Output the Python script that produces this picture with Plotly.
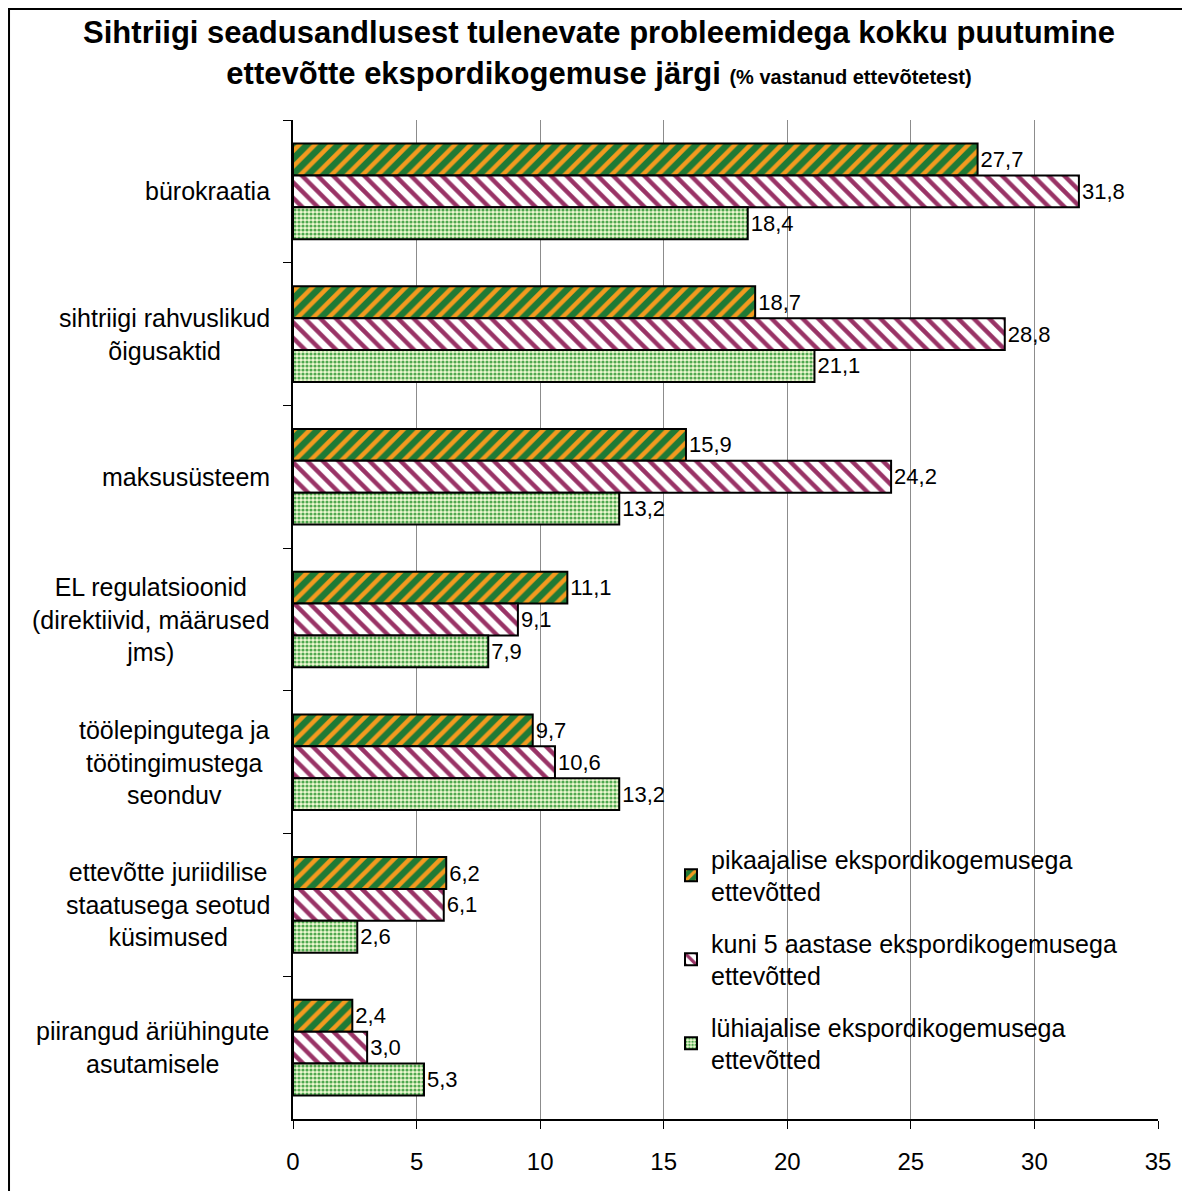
import plotly.graph_objects as go

categories = [
    "bürokraatia",
    "sihtriigi rahvuslikud<br>õigusaktid",
    "maksusüsteem",
    "EL regulatsioonid<br>(direktiivid, määrused<br>jms)",
    "töölepingutega ja<br>töötingimustega<br>seonduv",
    "ettevõtte juriidilise<br>staatusega seotud<br>küsimused",
    "piirangud äriühingute<br>asutamisele",
]
series_names = [
    "pikaajalise ekspordikogemusega<br>ettevõtted",
    "kuni 5 aastase ekspordikogemusega<br>ettevõtted",
    "lühiajalise ekspordikogemusega<br>ettevõtted",
]
long_exp = [27.7, 18.7, 15.9, 11.1, 9.7, 6.2, 2.4]
short5_exp = [31.8, 28.8, 24.2, 9.1, 10.6, 6.1, 3.0]
brief_exp = [18.4, 21.1, 13.2, 7.9, 13.2, 2.6, 5.3]
x_ticks = [0, 5, 10, 15, 20, 25, 30, 35]

FONT = "Liberation Sans, Arial, sans-serif"

def fmt(vals):
    return [f"{v:.1f}".replace(".", ",") for v in vals]

patterns = [
    dict(shape="/", bgcolor="#1f7a35", fgcolor="#f39a1e", size=11, solidity=0.4, fillmode="replace"),
    dict(shape="\\", bgcolor="#ffffff", fgcolor="#993366", size=11, solidity=0.4, fillmode="replace"),
    dict(shape=".", bgcolor="#eef8d2", fgcolor="#4fa84f", size=4, solidity=0.5, fillmode="replace"),
]

fig = go.Figure()
for i, (name, vals) in enumerate(zip(series_names, [long_exp, short5_exp, brief_exp])):
    fig.add_trace(go.Bar(
        y=categories, x=vals, orientation="h", name=name,
        marker=dict(pattern=patterns[i], line=dict(color="black", width=2)),
        text=fmt(vals), textposition="outside", cliponaxis=False,
        textfont=dict(size=22, color="black", family=FONT),
        legendgroup=f"g{i}",
    ))

for c in categories:
    fig.add_annotation(
        x=-0.024, xref="paper", y=c, yref="y", text=c, showarrow=False,
        xanchor="right", yanchor="middle", align="center",
        font=dict(size=25, color="black", family=FONT),
    )

fig.add_shape(type="rect", xref="paper", yref="paper",
              x0=-0.3283, x1=1.05, y0=-0.08, y1=1.111,
              line=dict(color="black", width=2), fillcolor="rgba(0,0,0,0)", layer="below")

fig.update_layout(
    width=1182, height=1183,
    margin=dict(l=285, r=32, t=112, b=72),
    paper_bgcolor="white", plot_bgcolor="white",
    barmode="group", bargap=0.33, bargroupgap=0,
    font=dict(family=FONT, size=22, color="black"),
    title=dict(
        text="<b>Sihtriigi seadusandlusest tulenevate probleemidega kokku puutumine<br>"
             "ettevõtte ekspordikogemuse järgi <span style='font-size:20px'>(% vastanud ettevõtetest)</span></b>",
        x=0.5, xanchor="center", yref="container", y=0.970, yanchor="top",
        font=dict(size=31, family=FONT, color="black"),
    ),
    legend=dict(
        x=0.437, y=0.283, xanchor="left", yanchor="top",
        bgcolor="rgba(0,0,0,0)", font=dict(size=25, family=FONT),
        traceorder="grouped", tracegroupgap=16, itemwidth=30,
    ),
    xaxis=dict(
        range=[0, 35], tickvals=x_ticks, showgrid=True, gridcolor="#8c8c8c", gridwidth=1,
        showline=True, linecolor="black", linewidth=1.5, ticks="outside", ticklen=8,
        tickcolor="black", tickfont=dict(size=24), zeroline=False, ticklabelstandoff=12,
    ),
    yaxis=dict(
        autorange="reversed", showticklabels=False, tickson="boundaries",
        ticks="outside", ticklen=8, tickcolor="black", showline=True, linecolor="black",
        linewidth=1.5, showgrid=False,
    ),
)

fig.write_html("out.html")
